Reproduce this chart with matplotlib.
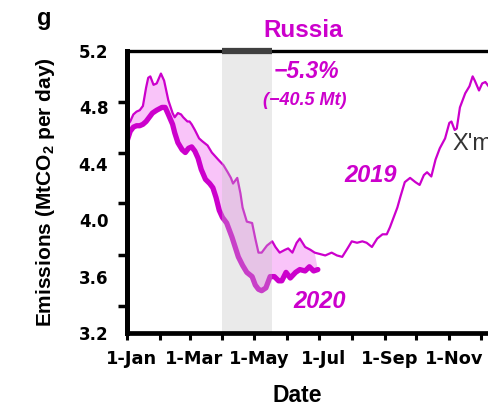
import numpy as np
import matplotlib
matplotlib.use('Agg')
import matplotlib.pyplot as plt
import matplotlib.transforms as mtransforms

# ---- data (day of year, MtCO2 per day) ----
days_2019 = [0, 3, 6, 9, 12, 15, 18, 20, 22, 25, 28, 32, 35, 39, 43, 45, 48, 51, 53, 57,
             59, 61, 64, 68, 71, 76, 80, 86, 91, 95, 98, 100, 104, 107, 109, 113, 118, 121,
             124, 127, 132, 137, 140, 144, 149, 152, 156, 160, 163, 168, 173, 177, 182, 187,
             193, 198, 203, 208, 212, 217, 222, 226, 231, 236, 241, 245, 248, 255, 258, 262,
             267, 272, 276, 280, 283, 287, 291, 295, 300, 304, 306, 309, 311, 314, 319, 323,
             326, 328, 332, 335, 338, 342, 344, 349, 354]
emis_2019 = [4.67, 4.70, 4.75, 4.77, 4.78, 4.81, 4.94, 5.01, 5.02, 4.96, 4.97, 5.04, 4.99,
             4.85, 4.76, 4.73, 4.76, 4.75, 4.73, 4.70, 4.70, 4.68, 4.64, 4.58, 4.56, 4.53,
             4.48, 4.43, 4.39, 4.34, 4.30, 4.26, 4.30, 4.19, 4.09, 3.99, 3.98, 3.87, 3.77,
             3.77, 3.82, 3.85, 3.81, 3.77, 3.79, 3.80, 3.77, 3.84, 3.87, 3.81, 3.79, 3.77,
             3.76, 3.75, 3.77, 3.75, 3.74, 3.80, 3.85, 3.84, 3.85, 3.84, 3.81, 3.87, 3.90,
             3.90, 3.95, 4.09, 4.17, 4.27, 4.30, 4.27, 4.25, 4.32, 4.34, 4.31, 4.43, 4.51,
             4.58, 4.69, 4.70, 4.64, 4.65, 4.80, 4.90, 4.95, 5.02, 4.99, 4.92, 4.97, 4.98,
             4.94, 4.95, 4.97, 4.92]

days_2020 = [0, 3, 6, 9, 12, 15, 18, 21, 24, 28, 33, 36, 39, 43, 45, 48, 52, 55, 58, 61,
             64, 67, 70, 74, 78, 81, 84, 87, 90, 94, 99, 102, 105, 109, 113, 118, 121, 124,
             127, 131, 135, 139, 143, 146, 150, 154, 159, 163, 168, 172, 176, 180]
emis_2020 = [4.56, 4.63, 4.66, 4.67, 4.67, 4.68, 4.70, 4.73, 4.76, 4.78, 4.80, 4.80, 4.75,
             4.68, 4.62, 4.55, 4.50, 4.48, 4.51, 4.52, 4.49, 4.44, 4.36, 4.29, 4.26, 4.23,
             4.16, 4.07, 4.02, 3.98, 3.88, 3.81, 3.74, 3.68, 3.63, 3.60, 3.54, 3.51, 3.50,
             3.52, 3.60, 3.60, 3.57, 3.57, 3.63, 3.59, 3.63, 3.65, 3.64, 3.67, 3.64, 3.65]

lockdown = (90, 137)
month_starts = [0, 31, 59, 90, 120, 151, 181, 212, 243, 273, 304, 334]
month_labels = ['1-Jan', '', '1-Mar', '', '1-May', '', '1-Jul', '', '1-Sep', '', '1-Nov', '']
ytick_values = [3.2, 3.6, 4.0, 4.4, 4.8, 5.2]
ytick_marks = [5.2, 4.84, 4.48, 4.12, 3.75, 3.39]

MAG = '#CC00CC'
FILL = '#F9C4F9'

plt.rcParams['mathtext.fontset'] = 'custom'
plt.rcParams['mathtext.rm'] = 'Liberation Sans'
plt.rcParams['mathtext.bf'] = 'Liberation Sans:bold'

W, H = 489, 409
fig = plt.figure(figsize=(W / 100, H / 100), dpi=100)
ax = fig.add_axes([127 / W, 76 / H, 387 / W, 282 / H])

d19 = np.array(days_2019, float)
e19 = np.array(emis_2019, float)
d20 = np.array(days_2020, float)
e20 = np.array(emis_2020, float)

sel = d19 <= d20[-1]
ax.fill(np.concatenate([d19[sel], d20[::-1]]), np.concatenate([e19[sel], e20[::-1]]),
        color=FILL, lw=0, zorder=1)
ax.plot(d19, e19, color=MAG, lw=1.6, zorder=2)
ax.plot(d20, e20, color=MAG, lw=3.8, zorder=2, solid_joinstyle='round', solid_capstyle='round')

ax.axvspan(lockdown[0], lockdown[1], color='#C2C2C2', alpha=0.33, lw=0, zorder=3)
ax.plot(lockdown, [5.2, 5.2], color='#404040', lw=4.5, solid_capstyle='butt',
        clip_on=False, zorder=4)

ax.set_xlim(0, 365)
ax.set_ylim(3.2, 5.2)

ax.spines['right'].set_visible(False)
ax.spines['top'].set_linewidth(2.4)
ax.spines['left'].set_linewidth(3.6)
ax.spines['bottom'].set_linewidth(3.4)
ax.spines['left'].set_zorder(5)
ax.spines['bottom'].set_zorder(5)

ax.set_xticks(month_starts)
ax.set_xticklabels(month_labels, fontfamily='DejaVu Sans', fontweight='bold', fontsize=12.8)
ax.tick_params(axis='x', length=5, width=2.2, pad=7.5, color='black')
offset = mtransforms.ScaledTranslation(0.05, 0, fig.dpi_scale_trans)
for lbl in ax.get_xticklabels():
    lbl.set_transform(lbl.get_transform() + offset)

ax.set_yticks(ytick_values)
ax.set_yticklabels(['%.1f' % v for v in ytick_values], fontfamily='DejaVu Sans',
                   fontweight='bold', fontsize=12)
ax.tick_params(axis='y', which='major', length=0, pad=13.5)
ax.set_yticks(ytick_marks, minor=True)
ax.tick_params(axis='y', which='minor', length=6.5, width=2.5, color='black')
ax.tick_params(axis='x', which='minor', bottom=False)


def ft(x, y, s, **kw):
    fig.text(x / W, 1 - y / H, s, **kw)


ft(37, 25, 'g', fontfamily='Liberation Sans', fontweight='bold', fontsize=17,
   ha='left', va='baseline', color='black')
ft(303, 37, 'Russia', fontfamily='Liberation Sans', fontweight='bold', fontsize=17.5,
   ha='center', va='baseline', color=MAG)
ft(306, 78, '\u22125.3%', fontfamily='Liberation Sans', fontweight='bold', style='italic',
   fontsize=16.5, ha='center', va='baseline', color=MAG)
ft(305, 105, '(\u221240.5 Mt)', fontfamily='Liberation Sans', fontweight='bold',
   style='italic', fontsize=13, ha='center', va='baseline', color=MAG)
ft(371, 182, '2019', fontfamily='Liberation Sans', fontweight='bold', style='italic',
   fontsize=17, ha='center', va='baseline', color=MAG)
ft(320, 308, '2020', fontfamily='Liberation Sans', fontweight='bold', style='italic',
   fontsize=17, ha='center', va='baseline', color=MAG)
ft(452, 150, "X'mas", fontfamily='Liberation Sans', fontsize=17, ha='left',
   va='baseline', color='#333333')
ft(297, 402, 'Date', fontfamily='Liberation Sans', fontweight='bold', fontsize=16.5,
   ha='center', va='baseline', color='black')
ft(46, 192, r'Emissions (MtCO$_\mathbf{2}$ per day)', fontfamily='Liberation Sans',
   fontweight='bold', fontsize=15, rotation=90, ha='center', va='center', color='black')

fig.savefig('out.png', dpi=100)
